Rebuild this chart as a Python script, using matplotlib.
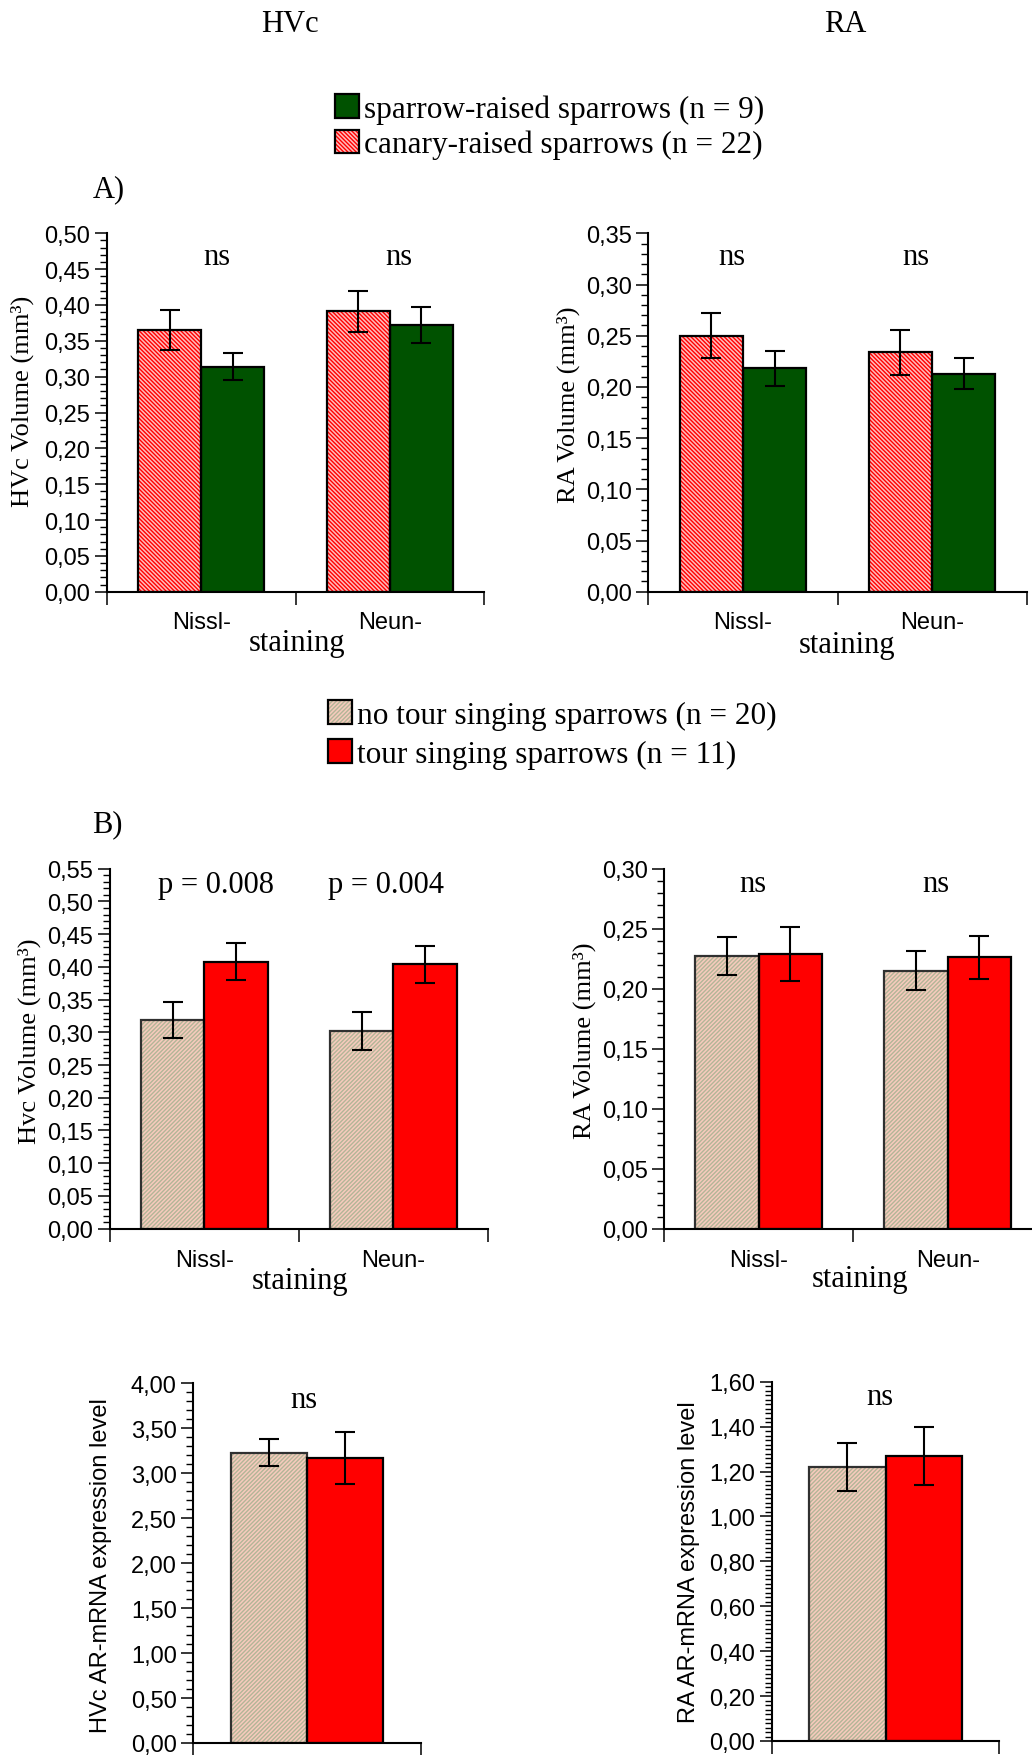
# %%
import matplotlib
matplotlib.use('Agg')
import numpy as np
import matplotlib.pyplot as plt
from matplotlib.patches import Patch
from matplotlib.legend_handler import HandlerTuple
from matplotlib.ticker import MultipleLocator, FuncFormatter

plt.rcParams['font.family'] = 'Liberation Sans'
plt.rcParams['hatch.linewidth'] = 1.0
SERIF = 'Liberation Serif'


# %% data
stains = ['Nissl-', 'Neun-']

# A) sparrow-raised vs canary-raised
hvc_canary = [0.365, 0.391]
hvc_canary_err = [0.028, 0.029]
hvc_sparrow = [0.314, 0.372]
hvc_sparrow_err = [0.019, 0.025]

ra_canary = [0.250, 0.234]
ra_canary_err = [0.022, 0.022]
ra_sparrow = [0.218, 0.213]
ra_sparrow_err = [0.017, 0.0155]

# B) no tour vs tour singing
hvc_notour = [0.319, 0.302]
hvc_notour_err = [0.028, 0.0285]
hvc_tour = [0.408, 0.404]
hvc_tour_err = [0.028, 0.0285]

ra_notour = [0.227, 0.215]
ra_notour_err = [0.016, 0.0163]
ra_tour = [0.229, 0.226]
ra_tour_err = [0.0225, 0.018]

# AR-mRNA expression
hvc_ar_notour = [3.23]
hvc_ar_notour_err = [0.15]
hvc_ar_tour = [3.17]
hvc_ar_tour_err = [0.29]

ra_ar_notour = [1.22]
ra_ar_notour_err = [0.105]
ra_ar_tour = [1.27]
ra_ar_tour_err = [0.13]

labels_a = ['sparrow-raised sparrows (n = 9)', 'canary-raised sparrows (n = 22)']
labels_b = ['no tour singing sparrows (n = 20)', 'tour singing sparrows (n = 11)']

# styles: (facecolor, hatch colour, hatch)
CANARY = ('#ffbdbd', '#ff0000', '\\' * 8)
SPARROW = ('#005200', '#005200', None)
NOTOUR = ('#f7cbbd', '#b3b597', '/' * 8)
TOUR = ('#ff0000', '#ff0000', None)


# %% helpers
W, H = 1032, 1756
fig = plt.figure(figsize=(W / 100, H / 100), dpi=100)


def px_axes(x0, x1, ytop, ybot):
    return fig.add_axes([x0 / W, 1 - ybot / H, (x1 - x0) / W, (ybot - ytop) / H])


def style_axes(ax, ymax, major, minor, ngroups):
    ax.set_xlim(-0.5, ngroups - 0.5)
    ax.set_ylim(0, ymax)
    ax.spines[['top', 'right']].set_visible(False)
    ax.spines[['left', 'bottom']].set_linewidth(1.5)
    ax.yaxis.set_major_locator(MultipleLocator(major))
    ax.yaxis.set_minor_locator(MultipleLocator(minor))
    ax.yaxis.set_major_formatter(FuncFormatter(lambda v, p: f'{v:.2f}'.replace('.', ',')))
    ax.tick_params(axis='y', which='major', length=9, width=1.1, pad=3, labelsize=17)
    ax.tick_params(axis='y', which='minor', length=5, width=1.0)
    ax.set_xticks(np.arange(ngroups + 1) - 0.5)
    ax.set_xticklabels([])
    ax.tick_params(axis='x', length=9, width=1.1)
    ax.patch.set_visible(False)


def draw_bars(ax, x, vals, errs, style, edge='black'):
    fc, hc, hatch = style
    ax.bar(x, vals, 0.335, color=fc, edgecolor=hc, hatch=hatch, linewidth=0, zorder=2)
    ax.bar(x, vals, 0.335, fill=False, edgecolor=edge, linewidth=1.6, zorder=2.5)
    ax.errorbar(x, vals, yerr=errs, fmt='none', ecolor='black',
                elinewidth=1.5, capsize=7, capthick=1.5, zorder=3)


def handle(style):
    fc, hc, hatch = style
    return (Patch(facecolor=fc, edgecolor=hc, hatch=hatch, linewidth=0),
            Patch(facecolor='none', edgecolor='black', linewidth=1.6))


def group_labels(ax, ylab_y, stain_x, stain_y):
    for i, s in enumerate(stains):
        ax.text(i, ylab_y, s, transform=ax.get_xaxis_transform(),
                ha='center', va='center', fontsize=17)
    ax.text(stain_x, stain_y, 'staining', transform=ax.transAxes,
            ha='center', va='center', fontsize=22, family=SERIF)


def ylabel(ax, text, x, y, serif=True):
    ax.set_ylabel(text, fontsize=19 if serif else 17, family=SERIF if serif else 'Liberation Sans',
                  va='center')
    ax.yaxis.set_label_coords(x, y)


x = np.arange(len(stains))
off = 0.1675


# %% titles and legends
fig.text(290 / W, 1 - 25 / H, 'HVc', fontsize=22, family=SERIF, ha='center', va='center')
fig.text(845 / W, 1 - 25 / H, 'RA', fontsize=22, family=SERIF, ha='center', va='center')
fig.text(109 / W, 1 - 190 / H, 'A)', fontsize=22, family=SERIF, ha='center', va='center')
fig.text(107 / W, 1 - 825 / H, 'B)', fontsize=22, family=SERIF, ha='center', va='center')

leg_kw = dict(loc='upper left', frameon=False, borderpad=0, borderaxespad=0,
              handlelength=0.78, handleheight=0.78, handletextpad=0.15,
              prop={'family': SERIF, 'size': 22.5},
              handler_map={tuple: HandlerTuple(ndivide=1)})
fig.legend([handle(SPARROW), handle(CANARY)], labels_a,
           bbox_to_anchor=(335 / W, 1 - 95 / H), labelspacing=0.2, **leg_kw)
fig.legend([handle(NOTOUR), handle(TOUR)], labels_b,
           bbox_to_anchor=(328 / W, 1 - 701 / H), labelspacing=0.3, **leg_kw)


# %% A) HVc
ax = px_axes(107, 484, 234.3, 592.7)
style_axes(ax, 0.50, 0.05, 0.01, 2)
draw_bars(ax, x - off, hvc_canary, hvc_canary_err, CANARY)
draw_bars(ax, x + off, hvc_sparrow, hvc_sparrow_err, SPARROW)
ylabel(ax, 'HVc Volume (mm³)', -0.225, 0.535)
group_labels(ax, -0.085, 0.503, -0.143)
for xx in (0.291, 0.775):
    ax.text(xx, 0.934, 'ns', transform=ax.transAxes, ha='center', va='center',
            fontsize=22, family=SERIF)

# %% A) RA
ax = px_axes(648.3, 1026.7, 234.3, 592.7)
style_axes(ax, 0.35, 0.05, 0.01, 2)
draw_bars(ax, x - off, ra_canary, ra_canary_err, CANARY)
draw_bars(ax, x + off, ra_sparrow, ra_sparrow_err, SPARROW)
ylabel(ax, 'RA Volume (mm³)', -0.212, 0.524)
group_labels(ax, -0.085, 0.524, -0.146)
for xx in (0.222, 0.707):
    ax.text(xx, 0.934, 'ns', transform=ax.transAxes, ha='center', va='center',
            fontsize=22, family=SERIF)

# %% B) HVc
ax = px_axes(110, 487.7, 869.7, 1229.6)
style_axes(ax, 0.55, 0.05, 0.01, 2)
draw_bars(ax, x - off, hvc_notour, hvc_notour_err, NOTOUR, edge='#303030')
draw_bars(ax, x + off, hvc_tour, hvc_tour_err, TOUR)
ylabel(ax, 'Hvc Volume (mm³)', -0.2145, 0.524)
group_labels(ax, -0.088, 0.503, -0.143)
for xx, t in ((0.281, 'p = 0.008'), (0.731, 'p = 0.004')):
    ax.text(xx, 0.957, t, transform=ax.transAxes, ha='center', va='center',
            fontsize=22, family=SERIF)

# %% B) RA
ax = px_axes(664.3, 1042.3, 869.7, 1229.6)
style_axes(ax, 0.30, 0.05, 0.01, 2)
draw_bars(ax, x - off, ra_notour, ra_notour_err, NOTOUR, edge='#303030')
draw_bars(ax, x + off, ra_tour, ra_tour_err, TOUR)
ylabel(ax, 'RA Volume (mm³)', -0.212, 0.524)
group_labels(ax, -0.088, 0.518, -0.14)
for xx in (0.2347, 0.718):
    ax.text(xx, 0.96, 'ns', transform=ax.transAxes, ha='center', va='center',
            fontsize=22, family=SERIF)

# %% AR-mRNA HVc
ax = px_axes(193.3, 421, 1384.3, 1744)
style_axes(ax, 4.0, 0.5, 0.1, 1)
draw_bars(ax, np.array([0]) - off, hvc_ar_notour, hvc_ar_notour_err, NOTOUR, edge='#303030')
draw_bars(ax, np.array([0]) + off, hvc_ar_tour, hvc_ar_tour_err, TOUR)
ylabel(ax, 'HVc AR-mRNA expression level', -0.405, 0.495, serif=False)
ax.text(0.485, 0.956, 'ns', transform=ax.transAxes, ha='center', va='center',
        fontsize=22, family=SERIF)

# %% AR-mRNA RA
ax = px_axes(771.7, 999.3, 1382.7, 1742)
style_axes(ax, 1.6, 0.2, 0.02, 1)
draw_bars(ax, np.array([0]) - off, ra_ar_notour, ra_ar_notour_err, NOTOUR, edge='#303030')
draw_bars(ax, np.array([0]) + off, ra_ar_tour, ra_ar_tour_err, TOUR)
ylabel(ax, 'RA AR-mRNA expression level', -0.363, 0.501, serif=False)
ax.text(0.476, 0.96, 'ns', transform=ax.transAxes, ha='center', va='center',
        fontsize=22, family=SERIF)

fig.savefig('out.png', dpi=100)
